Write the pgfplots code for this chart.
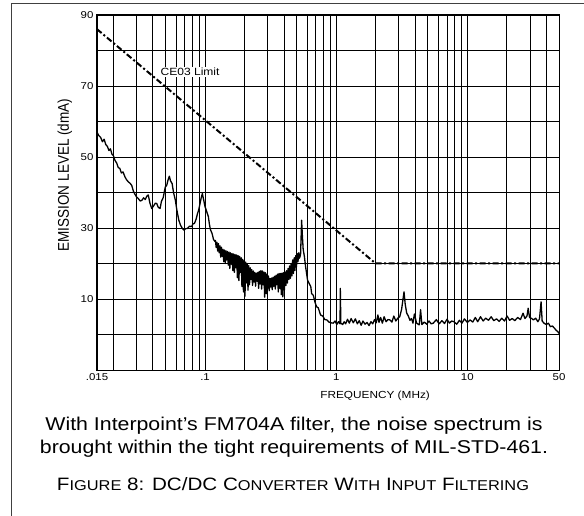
\documentclass[border=0pt]{standalone}
\usepackage{fontspec}
\setmainfont{Liberation Sans}[FakeStretch=1.15]
\newfontfamily\ylabfont{Liberation Sans}[FakeStretch=0.87]
\usepackage{pgfplots}
\pgfplotsset{compat=1.18}
\newcommand\B[1]{{\fontsize{18}{20}\selectfont #1}}
\newcommand\s[1]{{\fontsize{14.3}{20}\selectfont #1}}
\begin{document}
\begin{tikzpicture}
\begin{axis}[
  at={(0,0)}, anchor=south west,
  scale only axis, width=462bp, height=355bp,
  xmode=log, xmin=0.015, xmax=50, ymin=-10, ymax=90,
  xtick={0.015,0.1,1,10,50}, xticklabels={.015,.1,1,10,50},
  minor xtick={0.02,0.03,0.04,0.05,0.06,0.07,0.08,0.09,0.2,0.3,0.4,0.5,0.6,0.7,0.8,0.9,2,3,4,5,6,7,8,9,20,30,40},
  ytick={10,30,50,70,90}, minor ytick={0,20,40,60,80},
  grid=both,
  major grid style={black,line width=0.8bp},
  minor grid style={black,line width=0.8bp},
  major tick length=0pt, minor tick length=0pt,
  axis line style={black,line width=1bp},
  tick label style={font=\fontsize{10}{12}\selectfont},
  /pgf/number format/assume math mode=true,
  xlabel={FREQUENCY (MHz)},
  ylabel={EMISSION LEVEL (dmA)},
  xlabel style={at={(axis description cs:0.602,0)}, anchor=center, yshift=-26bp, font=\fontsize{10.3}{12}\selectfont},
  ylabel style={at={(axis description cs:-0.0693,0.549)}, anchor=center, font=\ylabfont\fontsize{15.6}{18}\selectfont},
]
\addplot[black, line width=1.3bp, line join=round] coordinates {
(0.0150,57.0) (0.0155,56.0) (0.0160,55.5) (0.0165,54.3) (0.0170,55.0) (0.0175,53.5)
(0.0180,53.0) (0.0185,51.8) (0.0190,52.3) (0.0195,50.8) (0.0200,50.4) (0.0206,49.0)
(0.0212,48.3) (0.0218,47.0) (0.0224,46.8) (0.0230,45.5) (0.0237,45.8) (0.0245,44.4)
(0.0252,43.6) (0.0260,43.0) (0.0268,42.6) (0.0276,42.0) (0.0284,40.4) (0.0292,39.5)
(0.0301,38.7) (0.0310,38.3) (0.0320,37.6) (0.0330,37.8) (0.0340,38.5) (0.0350,38.0)
(0.0360,39.0) (0.0369,39.3) (0.0380,37.0) (0.0392,35.5) (0.0405,36.2) (0.0418,37.0)
(0.0428,36.9) (0.0440,35.8) (0.0454,35.5) (0.0465,37.5) (0.0480,38.6) (0.0497,41.5)
(0.0510,42.0) (0.0522,43.5) (0.0534,44.6) (0.0545,43.3) (0.0561,42.5) (0.0575,40.0)
(0.0594,37.8) (0.0610,35.0) (0.0631,32.2) (0.0650,30.8) (0.0671,29.9) (0.0690,29.4)
(0.0710,29.8) (0.0735,29.9) (0.0760,30.5) (0.0790,30.4) (0.0810,31.2) (0.0831,31.3)
(0.0855,32.5) (0.0875,34.0) (0.0893,35.0) (0.0915,36.8) (0.0935,38.5) (0.0954,39.7)
(0.0975,38.0) (0.1000,36.0) (0.1030,34.6) (0.1060,33.2) (0.1080,31.0) (0.1100,29.5)
(0.1130,28.5) (0.1160,26.8) (0.1190,26.2)
(0.1200,26.5) (0.1216,24.5) (0.1232,26.0) (0.1249,23.5) (0.1265,25.6) (0.1282,23.0)
(0.1299,25.0) (0.1317,21.8) (0.1334,24.6) (0.1352,22.0) (0.1370,24.0) (0.1389,20.5)
(0.1407,23.8) (0.1426,20.0) (0.1445,23.6) (0.1465,21.0) (0.1484,23.4) (0.1504,19.5)
(0.1524,23.2) (0.1545,18.6) (0.1565,23.0) (0.1586,19.8) (0.1608,22.8) (0.1629,18.0)
(0.1651,22.7) (0.1673,17.5) (0.1696,22.5) (0.1718,18.8) (0.1741,22.4) (0.1765,16.0)
(0.1788,22.2) (0.1812,15.2) (0.1837,22.0) (0.1861,17.5) (0.1886,21.6) (0.1911,13.5)
(0.1937,21.2) (0.1963,12.0) (0.1989,20.8) (0.2016,10.8) (0.2043,20.4) (0.2070,14.5)
(0.2098,20.0) (0.2126,12.5) (0.2154,19.4) (0.2183,14.0) (0.2212,18.8) (0.2242,15.5)
(0.2272,18.3) (0.2302,13.8) (0.2333,17.9) (0.2364,14.8) (0.2396,17.5) (0.2428,13.6)
(0.2461,17.3) (0.2494,15.0) (0.2527,17.5) (0.2561,13.0) (0.2595,17.8) (0.2630,14.2)
(0.2665,18.0) (0.2701,12.8) (0.2737,17.9) (0.2774,14.0) (0.2811,17.6) (0.2848,10.5)
(0.2886,17.4) (0.2925,11.5) (0.2964,17.0) (0.3004,13.0) (0.3044,16.5) (0.3085,12.3)
(0.3126,15.8) (0.3168,13.4) (0.3210,15.9) (0.3253,12.6) (0.3297,16.1) (0.3341,13.6)
(0.3386,16.4) (0.3431,12.8) (0.3477,16.7) (0.3523,14.0) (0.3571,17.0) (0.3618,12.0)
(0.3667,17.2) (0.3716,13.0) (0.3766,17.2) (0.3816,11.2) (0.3867,17.3) (0.3919,10.6)
(0.3971,17.4) (0.4024,12.5) (0.4078,17.6) (0.4133,13.8) (0.4188,18.0) (0.4244,14.5)
(0.4301,18.6) (0.4358,15.5) (0.4417,19.3) (0.4476,15.8) (0.4536,20.0) (0.4596,16.5)
(0.4658,21.0) (0.4720,17.2) (0.4783,21.6) (0.4847,18.0) (0.4912,22.2) (0.4978,19.0)
(0.5045,22.8) (0.5112,20.5) (0.5180,23.0) (0.5250,21.5)
(0.535,22.5) (0.545,32.2) (0.552,28.0) (0.560,24.0) (0.572,22.0) (0.585,19.0)
(0.605,15.3) (0.620,14.5) (0.640,13.5) (0.650,11.5) (0.670,11.0) (0.690,9.0)
(0.710,7.8) (0.730,7.5) (0.760,5.5) (0.790,5.2) (0.820,4.2) (0.850,4.1)
(0.880,3.5) (0.910,3.3) (0.950,3.2) (0.980,3.8) (1.010,2.8) (1.040,3.6)
(1.070,3.0) (1.075,13.0) (1.085,3.2) (1.12,2.8) (1.15,3.6) (1.18,3.0)
(1.22,4.3) (1.26,3.2) (1.30,4.5) (1.35,3.3) (1.40,4.4) (1.45,3.0)
(1.50,3.9) (1.55,2.6) (1.60,3.8) (1.66,2.9) (1.72,3.4) (1.78,2.5)
(1.84,3.6) (1.90,3.0) (1.96,4.2) (2.02,3.3) (2.08,5.5) (2.12,3.4)
(2.18,4.8) (2.25,3.2) (2.32,5.0) (2.40,3.6) (2.48,4.2) (2.57,4.1)
(2.66,3.5) (2.75,5.2) (2.85,3.8) (2.95,4.6) (3.05,5.0) (3.15,7.0)
(3.22,9.5) (3.29,12.0) (3.36,8.5) (3.45,6.0) (3.55,5.2) (3.65,4.0)
(3.75,4.5) (3.85,3.2) (3.95,5.8) (4.10,3.2) (4.30,2.7) (4.40,7.0)
(4.50,2.8) (4.70,3.5) (4.90,2.9) (5.10,3.8) (5.30,3.0) (5.50,3.2)
(5.80,4.2) (6.10,3.0) (6.40,3.9) (6.70,3.1) (7.00,4.3) (7.30,3.2)
(7.60,3.8) (7.90,3.6) (8.30,2.9) (8.70,4.0) (9.10,3.2) (9.50,4.4)
(10.0,3.4) (10.5,4.1) (11.0,3.5) (11.5,4.8) (12.0,3.6) (12.6,5.0)
(13.2,3.8) (13.8,4.6) (14.5,4.0) (15.2,5.0) (15.9,3.9) (16.7,4.4)
(17.5,3.7) (18.3,4.6) (19.2,3.8) (20.1,5.2) (21.0,4.0) (22.0,4.5)
(23.0,3.9) (24.2,4.8) (25.4,4.2) (26.6,6.0) (27.5,4.5) (28.5,5.2)
(29.1,7.4) (29.8,4.8) (31.0,4.5) (31.9,4.1) (33.2,4.6) (34.5,3.6)
(35.5,4.4) (36.5,9.2) (37.2,3.8) (38.4,3.2) (40.0,2.8) (41.5,3.2)
(43.0,2.2) (44.5,2.4) (46.1,1.8) (47.5,1.2) (49.0,0.8) (50.0,0.3)
};
\addplot[black, line width=2bp, dash pattern=on 6bp off 2.5bp on 2bp off 2.5bp]
  coordinates {(0.015,86) (2,20) (50,20)};
\node[fill=white, inner sep=1bp, font=\fontsize{10.5}{12}\selectfont] at (axis cs:0.0769,74) {CE03 Limit};
\end{axis}
\draw[line width=1bp, black!75] (-85.5bp,-150bp) -- (-85.5bp,366bp) -- (490bp,366bp);
\node[font=\fontsize{18.6}{23}\selectfont, align=center] at (197bp,-67.5bp)
  {With Interpoint’s FM704A filter, the noise spectrum is\\brought within the tight requirements of MIL-STD-461.};
\node[font=\fontsize{18}{20}\selectfont] at (196bp,-114bp)
  {\B{F}\s{IGURE} \B{8: DC/DC C}\s{ONVERTER} \B{W}\s{ITH} \B{I}\s{NPUT} \B{F}\s{ILTERING}};
\pgfresetboundingbox
\useasboundingbox (-97bp,-146bp) rectangle (487bp,370bp);
\end{tikzpicture}
\end{document}
